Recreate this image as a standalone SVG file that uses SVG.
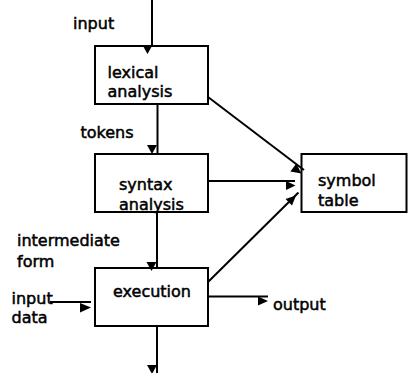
<svg xmlns="http://www.w3.org/2000/svg" width="408" height="373" viewBox="0 0 408 373">
<style>
  .box { fill: #ffffff; stroke: #000000; stroke-width: 2; }
  .lbl { font-family: "DejaVu Sans", Verdana, sans-serif; font-size: 16px; fill: #000000; stroke: #000000; stroke-width: 0.5; }
  .ln { stroke: #000000; stroke-width: 2; fill: none; }
  .ah { fill: #000000; stroke: none; }
</style>
<rect width="408" height="373" fill="#ffffff"/>
<g id="node-lexical">
  <rect class="box" x="95" y="46" width="113" height="58"/>
  <text class="lbl" x="107.5" y="78">lexical</text>
  <text class="lbl" x="107.5" y="97">analysis</text>
</g>
<g id="node-syntax">
  <rect class="box" x="95" y="154" width="113" height="58"/>
  <text class="lbl" x="119" y="190">syntax</text>
  <text class="lbl" x="119" y="210">analysis</text>
</g>
<g id="node-execution">
  <rect class="box" x="95" y="268" width="113" height="58"/>
  <text class="lbl" x="113" y="297">execution</text>
</g>
<g id="node-symbol">
  <rect class="box" x="301.5" y="154" width="105" height="58"/>
  <text class="lbl" x="318" y="186">symbol</text>
  <text class="lbl" x="318" y="205.5">table</text>
</g>
<g id="labels">
  <text class="lbl" x="73" y="29">input</text>
  <text class="lbl" x="80.5" y="138">tokens</text>
  <text class="lbl" x="17" y="246">intermediate</text>
  <text class="lbl" x="17" y="267">form</text>
  <text class="lbl" x="11.5" y="304">input</text>
  <text class="lbl" x="11.5" y="323">data</text>
  <text class="lbl" x="273" y="310">output</text>
</g>
<g id="connectors">
  <line class="ln" x1="152" y1="0" x2="152" y2="46"/>
  <polygon class="ah" points="143,46 152,46 147.5,54"/>
  <line class="ln" x1="157.5" y1="104" x2="157.5" y2="154"/>
  <polygon class="ah" points="147,145 157,145 152,154"/>
  <line class="ln" x1="157" y1="212" x2="157" y2="268"/>
  <polygon class="ah" points="146.5,262 156.5,262 151.5,271"/>
  <line class="ln" x1="157" y1="326" x2="157" y2="373"/>
  <polygon class="ah" points="147,365 157,365 152,374"/>
  <line class="ln" x1="50" y1="302" x2="91" y2="302"/>
  <polygon class="ah" points="80,303 80,312.5 91,307.5"/>
  <line class="ln" x1="208" y1="296.5" x2="268" y2="296.5"/>
  <polygon class="ah" points="258,296.5 258,305.5 268,301"/>
  <line class="ln" x1="208" y1="181" x2="295" y2="181"/>
  <polygon class="ah" points="286,181 286,190 295.5,185.5"/>
  <line class="ln" x1="208" y1="97" x2="304" y2="170"/>
  <polygon class="ah" points="290.4,171.5 296.4,163.5 301.3,173.6"/>
  <line class="ln" x1="208" y1="282" x2="298.5" y2="192.5"/>
  <polygon class="ah" points="285.5,199 292,205.5 296,195.5"/>
</g>
</svg>
